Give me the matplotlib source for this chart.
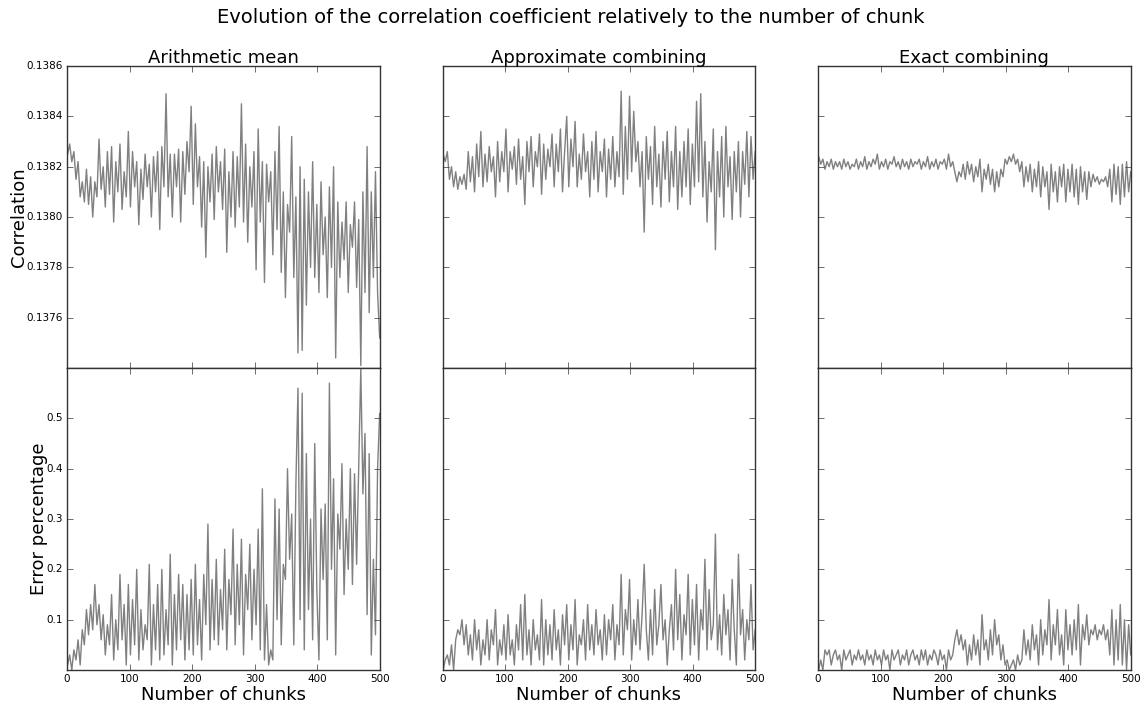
import numpy as np
import matplotlib
matplotlib.use("Agg")
import matplotlib.pyplot as plt
from matplotlib.ticker import FormatStrFormatter

# correlation and error percentage (about every 3.3 chunks)
corr_mean = [
    0.13825, 0.13829, 0.13822, 0.13826, 0.13815, 0.13822, 0.13808, 0.13814, 0.13806, 0.13819,
    0.13805, 0.13816, 0.13800, 0.13814, 0.13808, 0.13831, 0.13811, 0.13820, 0.13804, 0.13826,
    0.13809, 0.13828, 0.13798, 0.13822, 0.13810, 0.13829, 0.13803, 0.13818, 0.13808, 0.13834,
    0.13804, 0.13826, 0.13812, 0.13822, 0.13797, 0.13819, 0.13807, 0.13825, 0.13812, 0.13821,
    0.13800, 0.13824, 0.13810, 0.13826, 0.13795, 0.13828, 0.13812, 0.13849, 0.13808, 0.13825,
    0.13800, 0.13825, 0.13812, 0.13827, 0.13798, 0.13826, 0.13809, 0.13830, 0.13818, 0.13844,
    0.13805, 0.13837, 0.13812, 0.13824, 0.13796, 0.13822, 0.13784, 0.13820, 0.13806, 0.13825,
    0.13799, 0.13828, 0.13810, 0.13822, 0.13803, 0.13827, 0.13786, 0.13818, 0.13800, 0.13826,
    0.13796, 0.13824, 0.13804, 0.13845, 0.13798, 0.13829, 0.13790, 0.13820, 0.13804, 0.13826,
    0.13779, 0.13835, 0.13798, 0.13822, 0.13774, 0.13821, 0.13806, 0.13818, 0.13785, 0.13826,
    0.13795, 0.13836, 0.13778, 0.13810, 0.13768, 0.13805, 0.13794, 0.13832, 0.13776, 0.13808,
    0.13746, 0.13820, 0.13747, 0.13815, 0.13765, 0.13810, 0.13780, 0.13822, 0.13776, 0.13805,
    0.13770, 0.13814, 0.13785, 0.13800, 0.13768, 0.13812, 0.13780, 0.13820, 0.13744, 0.13806,
    0.13776, 0.13798, 0.13783, 0.13806, 0.13770, 0.13797, 0.13788, 0.13806, 0.13772, 0.13799,
    0.13741, 0.13810, 0.13770, 0.13828, 0.13762, 0.13810, 0.13776, 0.13818, 0.13770, 0.13752,
]
err_mean = [
    0.01, 0.03, 0.00, 0.04, 0.02, 0.06, 0.01, 0.08, 0.05, 0.12,
    0.07, 0.13, 0.08, 0.17, 0.09, 0.13, 0.06, 0.11, 0.03, 0.09,
    0.05, 0.15, 0.02, 0.10, 0.04, 0.19, 0.06, 0.13, 0.01, 0.17,
    0.03, 0.14, 0.05, 0.20, 0.02, 0.12, 0.04, 0.09, 0.06, 0.21,
    0.01, 0.13, 0.04, 0.17, 0.02, 0.20, 0.03, 0.12, 0.05, 0.23,
    0.01, 0.15, 0.04, 0.19, 0.06, 0.17, 0.02, 0.15, 0.04, 0.18,
    0.03, 0.21, 0.05, 0.14, 0.02, 0.19, 0.09, 0.29, 0.04, 0.18,
    0.06, 0.22, 0.05, 0.16, 0.08, 0.24, 0.04, 0.18, 0.11, 0.28,
    0.05, 0.21, 0.09, 0.26, 0.03, 0.19, 0.12, 0.25, 0.06, 0.20,
    0.09, 0.28, 0.04, 0.36, 0.02, 0.13, 0.01, 0.04, 0.02, 0.34,
    0.10, 0.32, 0.05, 0.21, 0.18, 0.40, 0.22, 0.31, 0.05, 0.37,
    0.56, 0.10, 0.55, 0.04, 0.43, 0.12, 0.30, 0.06, 0.45, 0.16,
    0.02, 0.32, 0.18, 0.33, 0.06, 0.57, 0.20, 0.38, 0.03, 0.31,
    0.24, 0.41, 0.15, 0.30, 0.20, 0.40, 0.17, 0.39, 0.21, 0.40,
    0.60, 0.35, 0.47, 0.11, 0.43, 0.03, 0.22, 0.07, 0.40, 0.51,
]
corr_approx = [
    0.13825, 0.13822, 0.13826, 0.13815, 0.13820, 0.13812, 0.13818, 0.13811, 0.13816, 0.13813,
    0.13817, 0.13811, 0.13826, 0.13814, 0.13824, 0.13810, 0.13829, 0.13816, 0.13834, 0.13812,
    0.13825, 0.13814, 0.13828, 0.13818, 0.13824, 0.13808, 0.13830, 0.13814, 0.13826, 0.13818,
    0.13835, 0.13810, 0.13826, 0.13819, 0.13828, 0.13813, 0.13831, 0.13815, 0.13824, 0.13805,
    0.13830, 0.13818, 0.13832, 0.13812, 0.13826, 0.13820, 0.13833, 0.13809, 0.13829, 0.13815,
    0.13827, 0.13820, 0.13833, 0.13812, 0.13829, 0.13818, 0.13835, 0.13810, 0.13826, 0.13840,
    0.13812, 0.13831, 0.13820, 0.13838, 0.13812, 0.13825, 0.13815, 0.13833, 0.13818, 0.13826,
    0.13808, 0.13830, 0.13815, 0.13834, 0.13810, 0.13826, 0.13818, 0.13831, 0.13808, 0.13827,
    0.13815, 0.13832, 0.13812, 0.13826, 0.13816, 0.13850, 0.13809, 0.13836, 0.13815, 0.13848,
    0.13818, 0.13842, 0.13822, 0.13830, 0.13812, 0.13826, 0.13794, 0.13832, 0.13815, 0.13828,
    0.13805, 0.13836, 0.13812, 0.13825, 0.13804, 0.13830, 0.13815, 0.13834, 0.13806, 0.13826,
    0.13812, 0.13836, 0.13803, 0.13826, 0.13808, 0.13830, 0.13812, 0.13835, 0.13805, 0.13829,
    0.13812, 0.13846, 0.13814, 0.13849, 0.13808, 0.13830, 0.13798, 0.13822, 0.13810, 0.13835,
    0.13787, 0.13826, 0.13808, 0.13832, 0.13800, 0.13836, 0.13812, 0.13824, 0.13799, 0.13826,
    0.13810, 0.13830, 0.13800, 0.13826, 0.13813, 0.13834, 0.13808, 0.13832, 0.13815, 0.13826,
]
err_approx = [
    0.00, 0.02, 0.03, 0.01, 0.05, 0.00, 0.06, 0.08, 0.07, 0.10,
    0.05, 0.09, 0.03, 0.07, 0.02, 0.10, 0.04, 0.08, 0.01, 0.06,
    0.03, 0.10, 0.02, 0.08, 0.05, 0.12, 0.01, 0.06, 0.03, 0.09,
    0.02, 0.11, 0.03, 0.06, 0.01, 0.09, 0.04, 0.13, 0.02, 0.15,
    0.03, 0.08, 0.01, 0.10, 0.04, 0.07, 0.02, 0.14, 0.01, 0.10,
    0.03, 0.09, 0.02, 0.12, 0.04, 0.08, 0.01, 0.11, 0.05, 0.13,
    0.02, 0.09, 0.04, 0.14, 0.01, 0.07, 0.05, 0.10, 0.02, 0.13,
    0.04, 0.09, 0.03, 0.12, 0.05, 0.08, 0.02, 0.11, 0.03, 0.10,
    0.06, 0.13, 0.02, 0.09, 0.05, 0.19, 0.03, 0.12, 0.08, 0.18,
    0.02, 0.10, 0.05, 0.14, 0.04, 0.11, 0.21, 0.08, 0.02, 0.12,
    0.03, 0.16, 0.05, 0.09, 0.17, 0.06, 0.10, 0.01, 0.08, 0.13,
    0.04, 0.20, 0.06, 0.15, 0.02, 0.11, 0.07, 0.19, 0.03, 0.14,
    0.05, 0.17, 0.02, 0.12, 0.08, 0.22, 0.04, 0.16, 0.06, 0.09,
    0.27, 0.04, 0.11, 0.03, 0.15, 0.07, 0.12, 0.02, 0.18, 0.08,
    0.01, 0.23, 0.07, 0.12, 0.02, 0.10, 0.06, 0.17, 0.04, 0.08,
]
corr_exact = [
    0.13824, 0.13821, 0.13823, 0.13819, 0.13822, 0.13820, 0.13823, 0.13819, 0.13822, 0.13820,
    0.13822, 0.13819, 0.13823, 0.13820, 0.13822, 0.13819, 0.13821, 0.13820, 0.13823, 0.13819,
    0.13822, 0.13820, 0.13824, 0.13819, 0.13822, 0.13820, 0.13823, 0.13821, 0.13825, 0.13819,
    0.13822, 0.13820, 0.13823, 0.13819, 0.13822, 0.13821, 0.13824, 0.13820, 0.13822, 0.13819,
    0.13823, 0.13820, 0.13822, 0.13819, 0.13823, 0.13820, 0.13822, 0.13821, 0.13823, 0.13819,
    0.13822, 0.13820, 0.13824, 0.13819, 0.13822, 0.13820, 0.13823, 0.13819, 0.13822, 0.13821,
    0.13823, 0.13819, 0.13825, 0.13820, 0.13822, 0.13818, 0.13814, 0.13818, 0.13816, 0.13821,
    0.13815, 0.13822, 0.13817, 0.13821, 0.13814, 0.13820, 0.13816, 0.13823, 0.13810, 0.13819,
    0.13815, 0.13821, 0.13813, 0.13819, 0.13810, 0.13818, 0.13812, 0.13819, 0.13816, 0.13823,
    0.13821, 0.13824, 0.13822, 0.13825, 0.13821, 0.13823, 0.13818, 0.13822, 0.13812, 0.13820,
    0.13814, 0.13821, 0.13810, 0.13819, 0.13812, 0.13822, 0.13808, 0.13820, 0.13812, 0.13818,
    0.13803, 0.13821, 0.13810, 0.13818, 0.13806, 0.13820, 0.13812, 0.13821, 0.13806, 0.13819,
    0.13810, 0.13821, 0.13808, 0.13819, 0.13805, 0.13820, 0.13810, 0.13818, 0.13807, 0.13818,
    0.13812, 0.13817, 0.13814, 0.13816, 0.13813, 0.13815, 0.13814, 0.13816, 0.13812, 0.13819,
    0.13806, 0.13821, 0.13809, 0.13820, 0.13805, 0.13821, 0.13808, 0.13822, 0.13810, 0.13818,
]
err_exact = [
    0.00, 0.02, 0.00, 0.04, 0.03, 0.04, 0.01, 0.03, 0.04, 0.02,
    0.03, 0.00, 0.04, 0.02, 0.03, 0.04, 0.01, 0.03, 0.02, 0.04,
    0.02, 0.03, 0.01, 0.04, 0.02, 0.03, 0.01, 0.04, 0.02, 0.03,
    0.01, 0.04, 0.02, 0.03, 0.00, 0.04, 0.02, 0.03, 0.04, 0.01,
    0.03, 0.02, 0.04, 0.01, 0.03, 0.04, 0.02, 0.03, 0.01, 0.04,
    0.02, 0.04, 0.01, 0.03, 0.02, 0.04, 0.03, 0.01, 0.04, 0.02,
    0.03, 0.00, 0.04, 0.02, 0.03, 0.06, 0.08, 0.05, 0.07, 0.04,
    0.06, 0.01, 0.05, 0.02, 0.07, 0.03, 0.06, 0.01, 0.11, 0.04,
    0.06, 0.02, 0.08, 0.03, 0.10, 0.05, 0.07, 0.02, 0.05, 0.01,
    0.02, 0.00, 0.01, 0.02, 0.00, 0.03, 0.01, 0.02, 0.08, 0.03,
    0.06, 0.02, 0.09, 0.04, 0.07, 0.01, 0.10, 0.03, 0.08, 0.05,
    0.14, 0.02, 0.09, 0.05, 0.12, 0.03, 0.07, 0.01, 0.12, 0.04,
    0.09, 0.03, 0.10, 0.04, 0.13, 0.01, 0.09, 0.06, 0.11, 0.05,
    0.08, 0.07, 0.09, 0.06, 0.08, 0.07, 0.09, 0.06, 0.08, 0.03,
    0.12, 0.01, 0.10, 0.02, 0.13, 0.01, 0.10, 0.00, 0.09, 0.03,
]

titles = ["Arithmetic mean", "Approximate combining", "Exact combining"]
corr_series = [corr_mean, corr_approx, corr_exact]
err_series = [err_mean, err_approx, err_exact]

plt.style.use("classic")
fig, axes = plt.subplots(2, 3, figsize=(11.41, 7.07), dpi=100, sharex=True, sharey="row")
fig.patch.set_facecolor("white")
fig.subplots_adjust(left=0.0587, right=0.991, top=0.9066, bottom=0.0523,
                    hspace=0, wspace=0.201)

for i in range(3):
    x = np.linspace(1, 500, len(corr_series[i]))
    ax = axes[0, i]
    ax.plot(x, corr_series[i], color="#808080", linewidth=1)
    ax.set_title(titles[i], fontsize=13, pad=2)
    ax = axes[1, i]
    ax.plot(x, err_series[i], color="#808080", linewidth=1)
    ax.set_xlabel("Number of chunks", fontsize=13, labelpad=1)

for ax in axes.flat:
    ax.set_xlim(0, 500)
    ax.set_xticks([0, 100, 200, 300, 400, 500])
    ax.tick_params(labelsize=7.5, pad=3, color="#333333")
    for s in ax.spines.values():
        s.set_color("#333333")

axes[0, 0].set_ylim(0.1374, 0.1386)
axes[0, 0].set_yticks([0.1376, 0.1378, 0.1380, 0.1382, 0.1384, 0.1386])
axes[0, 0].yaxis.set_major_formatter(FormatStrFormatter("%.4f"))
axes[0, 0].set_ylabel("Correlation", fontsize=13, labelpad=-1)
axes[1, 0].set_ylim(0, 0.6)
axes[1, 0].set_yticks([0.1, 0.2, 0.3, 0.4, 0.5])
axes[1, 0].set_ylabel("Error percentage", fontsize=13, labelpad=-1)

fig.suptitle("Evolution of the correlation coefficient relatively to the number of chunk",
             fontsize=14, y=0.989)

fig.savefig("out.png", dpi=100, facecolor="white")
